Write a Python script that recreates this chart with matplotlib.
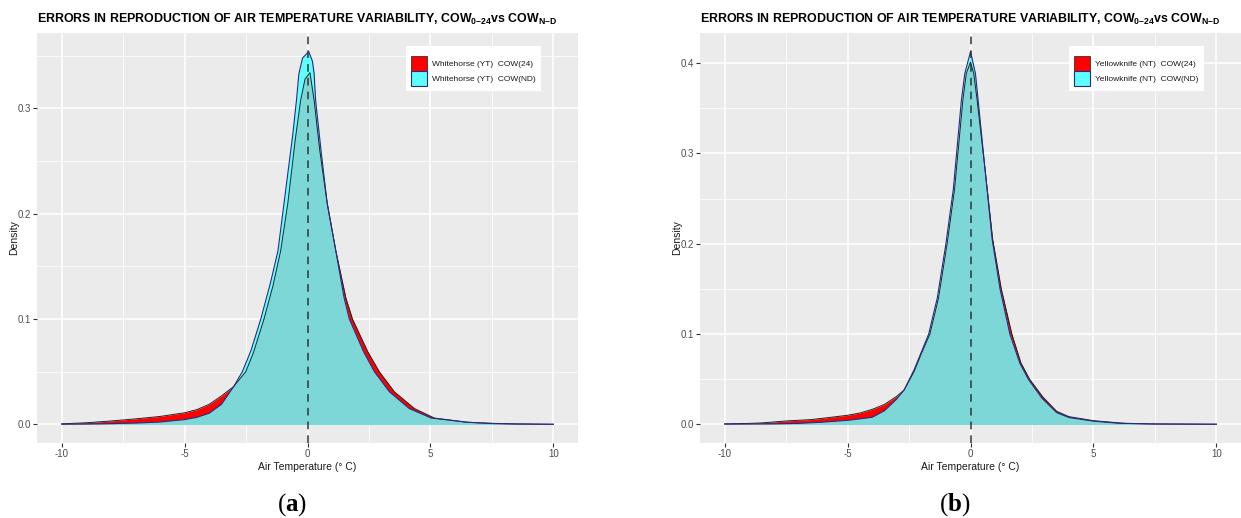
import matplotlib
matplotlib.use("Agg")
import matplotlib.pyplot as plt
from matplotlib.patches import Patch

plt.rcParams['font.family'] = ['Liberation Sans', 'DejaVu Sans']
plt.rcParams['axes.unicode_minus'] = False
plt.rcParams['mathtext.fontset'] = 'custom'
plt.rcParams['mathtext.rm'] = 'Liberation Sans:bold'
plt.rcParams['mathtext.bf'] = 'Liberation Serif:bold'

# ---------------- data ----------------
# Panel (a): Whitehorse (YT)
a_c24_x = [-10, -9.5, -9, -8, -7.5, -7, -6, -5, -4.5, -4, -3.5, -3.0, -2.51, -2.2, -1.77,
           -1.4, -1.09, -0.8, -0.5, -0.28, -0.1, 0.1, 0.27, 0.5, 0.8, 1.15, 1.56, 1.83,
           2.45, 2.92, 3.53, 4.35, 5.16, 6.5, 7.5, 8.5, 10]
a_c24_y = [0.0005, 0.0010, 0.0015, 0.0032, 0.0042, 0.0052, 0.0075, 0.011, 0.014, 0.019, 0.027,
           0.036, 0.050, 0.068, 0.100, 0.132, 0.165, 0.210, 0.270, 0.3076, 0.328, 0.334,
           0.3076, 0.260, 0.210, 0.165, 0.120, 0.100, 0.069, 0.050, 0.031, 0.015, 0.006,
           0.002, 0.0010, 0.0004, 0.0001]

a_cnd_x = [-10, -9, -8, -7, -6, -5, -4.5, -4, -3.5, -3.0, -2.65, -2.3, -1.9, -1.5, -1.2,
           -0.9, -0.6, -0.45, -0.35, -0.2, 0.05, 0.2, 0.27, 0.33, 0.55, 0.8, 1.15, 1.49,
           1.70, 2.28, 2.72, 3.33, 4.14, 5.03, 6.5, 7.5, 8.5, 10]
a_cnd_y = [0.0002, 0.0004, 0.0007, 0.0012, 0.0022, 0.0045, 0.0067, 0.0105, 0.019, 0.036,
           0.050, 0.070, 0.100, 0.135, 0.165, 0.220, 0.275, 0.3076, 0.333, 0.348, 0.354,
           0.345, 0.333, 0.3076, 0.260, 0.210, 0.165, 0.120, 0.100, 0.069, 0.050, 0.031,
           0.015, 0.006, 0.002, 0.0008, 0.0004, 0.0001]

# Panel (b): Yellowknife (NT)
b_c24_x = [-10, -9, -8.5, -7.5, -6.5, -6, -5, -4.5, -4, -3.5, -3.0, -2.7, -2.3, -2.0, -1.65,
           -1.3, -0.95, -0.65, -0.31, -0.17, 0.0, 0.13, 0.27, 0.6, 0.9, 1.25, 1.68, 2.05,
           2.4, 2.95, 3.5, 4.0, 5.0, 6.3, 7.5, 10]
b_c24_y = [0.0005, 0.0010, 0.0015, 0.0037, 0.0052, 0.0067, 0.010, 0.0125, 0.0165, 0.022,
           0.031, 0.038, 0.058, 0.078, 0.100, 0.140, 0.200, 0.260, 0.359, 0.3886, 0.401,
           0.3886, 0.359, 0.280, 0.205, 0.150, 0.100, 0.068, 0.050, 0.030, 0.0145, 0.0085,
           0.0040, 0.0010, 0.0004, 0.0001]

b_cnd_x = [-10, -8, -7, -6, -5, -4.5, -4, -3.5, -3.0, -2.7, -2.3, -2.0, -1.7, -1.35, -1.0,
           -0.7, -0.37, -0.23, 0.0, 0.2, 0.31, 0.6, 0.88, 1.2, 1.6, 2.0, 2.35, 2.9, 3.5,
           4.0, 5.0, 6.0, 7.5, 10]
b_cnd_y = [0.0003, 0.0006, 0.0010, 0.0024, 0.0044, 0.0060, 0.0078, 0.015, 0.028, 0.038,
           0.060, 0.080, 0.100, 0.140, 0.200, 0.260, 0.359, 0.3886, 0.4126, 0.3886, 0.359,
           0.280, 0.205, 0.150, 0.100, 0.068, 0.050, 0.029, 0.013, 0.0075, 0.0035, 0.0012,
           0.0004, 0.0001]

x_ticks = [-10, -5, 0, 5, 10]
a_y_ticks = [0.0, 0.1, 0.2, 0.3]
b_y_ticks = [0.0, 0.1, 0.2, 0.3, 0.4]
a_labels = ["Whitehorse (YT)  COW(24)", "Whitehorse (YT)  COW(ND)"]
b_labels = ["Yellowknife (NT)  COW(24)", "Yellowknife (NT)  COW(ND)"]
title_txt = ("ERRORS IN REPRODUCTION OF AIR TEMPERATURE VARIABILITY, "
             "COW$_{\\mathrm{0\u201324}}$vs COW$_{\\mathrm{N\u2013D}}$")

# ---------------- styling ----------------
RED = "#FF0000"
CYAN = "#5EFFFF"
TEAL = "#7ED7D7"
NAVY = "#2A2A80"
PANEL = "#EBEBEB"

W, H = 1241, 518
fig = plt.figure(figsize=(W / 100, H / 100), dpi=100)


def draw(rect, x24, y24, xnd, ynd, yticks, ylim, labels, caption, cap_x):
    ax = fig.add_axes(rect)
    ax.set_facecolor(PANEL)
    for s in ax.spines.values():
        s.set_visible(False)
    ax.set_xlim(-11, 11)
    ax.set_ylim(*ylim)
    ax.set_xticks(x_ticks)
    ax.set_xticklabels([str(t) for t in x_ticks])
    ax.set_xticks([-7.5, -2.5, 2.5, 7.5], minor=True)
    ax.set_yticks(yticks)
    step = yticks[1] - yticks[0]
    ax.set_yticks([t + step / 2 for t in yticks if t + step / 2 < ylim[1]], minor=True)
    ax.set_yticklabels([f"{t:.1f}" for t in yticks])
    ax.grid(which='major', color='white', linewidth=1.1)
    ax.grid(which='minor', color='white', linewidth=0.55)
    ax.set_axisbelow(True)
    ax.tick_params(which='major', length=3, width=0.8, color='#333333',
                   labelsize=7, labelcolor='#4D4D4D', pad=1.5)
    ax.tick_params(which='minor', length=0)

    ax.fill_between(x24, y24, 0, color=RED, linewidth=0, zorder=2)
    pc = ax.fill_between(xnd, ynd, 0, color=CYAN, linewidth=0, zorder=3)
    pt = ax.fill_between(x24, y24, 0, color=TEAL, linewidth=0, zorder=4)
    pt.set_clip_path(pc.get_paths()[0], ax.transData)
    ax.plot(x24, y24, color='#222222', linewidth=0.7, zorder=5)
    ax.plot(xnd, ynd, color=NAVY, linewidth=0.8, zorder=6)
    ax.axvline(0, color='#333333', linewidth=1.1, linestyle=(0, (5, 4)), zorder=7)

    ax.set_xlabel("Air Temperature (° C)", fontsize=7.5, color='#1a1a1a', labelpad=2)
    ax.set_ylabel("Density", fontsize=7.5, color='#1a1a1a', labelpad=-1)

    handles = [Patch(facecolor=RED, edgecolor='#333333', linewidth=0.6),
               Patch(facecolor=CYAN, edgecolor=NAVY, linewidth=0.8)]
    leg = ax.legend(handles, labels, loc='upper right', bbox_to_anchor=(0.931, 0.968),
                    fontsize=6, frameon=True, fancybox=False, framealpha=1,
                    edgecolor='white', handlelength=1.92, handleheight=2.39,
                    labelspacing=0.0, handletextpad=0.6, borderpad=0.6,
                    borderaxespad=0, title=" ", title_fontsize=3.5)
    leg.get_frame().set_linewidth(0)
    for t in leg.get_texts():
        t.set_color('#1a1a1a')

    fig.text(rect[0], 1 - 19 / H, title_txt, fontsize=8.9, fontweight='bold',
             ha='left', va='center', color='black')
    fig.text(cap_x, 1 - 505 / H, "(" + r"$\mathbf{" + caption + "}$" + ")",
             fontsize=18, family='Liberation Serif', ha='center', va='center')
    return ax


draw([37 / W, 75 / H, 541 / W, 410 / H], a_c24_x, a_c24_y, a_cnd_x, a_cnd_y,
     a_y_ticks, (-0.0177, 0.3717), a_labels, "a", 292 / W)
draw([700 / W, 75 / H, 541 / W, 410 / H], b_c24_x, b_c24_y, b_cnd_x, b_cnd_y,
     b_y_ticks, (-0.0207, 0.4333), b_labels, "b", 955 / W)

fig.savefig("out.png", dpi=100)
